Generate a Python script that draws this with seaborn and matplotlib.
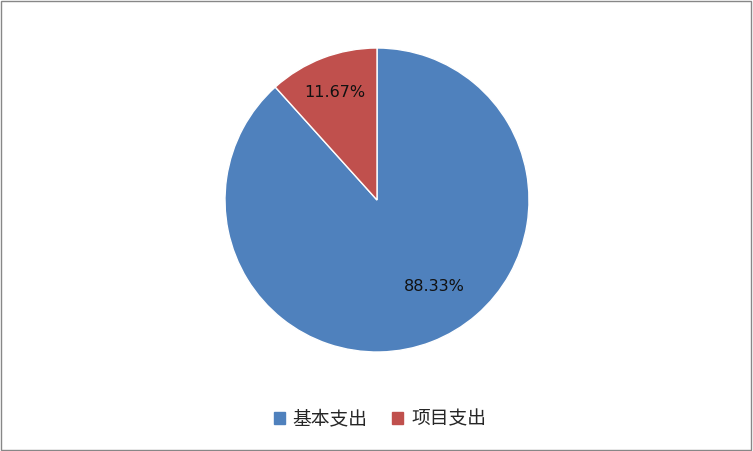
import matplotlib
matplotlib.use('Agg')
import matplotlib.pyplot as plt
import seaborn as sns
import numpy as np

# 数据
categories = ['基本支出', '项目支出']
values = [88.33, 11.67]
colors = ['#4F81BD', '#C0504D']

sns.set_style('white')
plt.rcParams['font.family'] = ['Noto Sans CJK SC', 'DejaVu Sans']

fig = plt.figure(figsize=(7.53, 4.51), dpi=100)
ax = fig.add_axes([(377 - 152) / 753, (451 - 352) / 451, 304 / 753, 304 / 451])

wedges, texts, autotexts = ax.pie(
    values, colors=sns.color_palette(colors), startangle=90, counterclock=False,
    autopct='%.2f%%', pctdistance=0.77, radius=1,
    textprops={'fontsize': 11.5, 'family': ['DejaVu Sans'], 'color': '#111111'},
)
# Excel 的“最佳位置”标签，蓝色那块稍微偏一点
autotexts[0].set_position((0.38, -0.57))
autotexts[1].set_position(np.array(autotexts[1].get_position()) + [0, -0.01])
ax.set_aspect('equal')
ax.set_xlim(-1, 1)
ax.set_ylim(-1, 1)
ax.axis('off')

handles = [plt.Rectangle((0, 0), 1, 1, color=c) for c in colors]
fig.legend(handles, categories, loc='center', bbox_to_anchor=(380 / 753, 1 - 419 / 451),
           ncol=2, frameon=False, fontsize=13.5, handlelength=0.6, handleheight=0.6,
           handletextpad=0.4, columnspacing=1.3)

# 外框
fig.patches.append(plt.Rectangle((0.001, 0.002), 0.997, 0.996, transform=fig.transFigure,
                                 fill=False, edgecolor='#878787', linewidth=1))

fig.savefig('out.png', dpi=100, facecolor='white')
